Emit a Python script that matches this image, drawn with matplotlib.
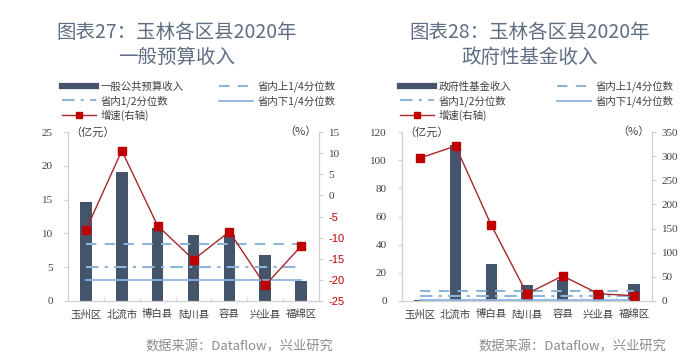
import matplotlib.pyplot as plt
from matplotlib.lines import Line2D

plt.rcParams['font.family'] = ['Noto Sans CJK SC', 'DejaVu Sans']
plt.rcParams['axes.unicode_minus'] = False

districts = ["玉州区", "北流市", "博白县", "陆川县", "容县", "兴业县", "福绵区"]

# chart 27: general budget revenue (亿元) and growth (%)
budget = [14.7, 19.1, 10.8, 9.7, 9.7, 6.8, 3.0]
budget_growth = [-8.2, 10.6, -7.2, -15.2, -8.6, -21.3, -12.0]
budget_q = [8.5, 5.1, 3.1]   # upper quartile, median, lower quartile

# chart 28: government fund revenue (亿元) and growth (%)
fund = [0.5, 111.0, 26.5, 11.5, 15.0, 6.5, 11.8]
fund_growth = [296, 321, 157, 15, 52, 15, 11]
fund_q = [7.3, 3.9, 1.0]

bar_color = "#44546a"
red = "#c00000"
line_red = "#a5282c"
qcolor = "#8fb4d8"
spine_c = "#d0d0d0"
txt_c = "#404040"

fig = plt.figure(figsize=(7, 3.63), dpi=100)


def draw(pos, bars, growth, quart, ylim, yticks, y2lim, y2ticks, bar_label,
         title, legend_xy, colspace, title_x):
    ax = fig.add_axes(pos)
    x = range(len(districts))
    ax.bar(x, bars, width=0.32, color=bar_color, zorder=2)
    l_up, = ax.plot([0, len(districts) - 1], [quart[0]] * 2, ls=(0, (5, 4)),
                    color=qcolor, lw=1.5, zorder=3)
    l_med, = ax.plot([0, len(districts) - 1], [quart[1]] * 2, ls=(0, (6, 3, 1.5, 3)),
                     color=qcolor, lw=1.5, zorder=3)
    l_low, = ax.plot([0, len(districts) - 1], [quart[2]] * 2, ls="-",
                     color="#8db3e2", lw=1.3, zorder=3)
    ax.set_xlim(-0.5, len(districts) - 0.5)
    ax.set_ylim(*ylim)
    ax.set_yticks(yticks)
    ax.set_xticks(list(x))
    ax.set_xticklabels(districts, fontsize=7.5, color=txt_c)
    ax.set_xticks([i + 0.5 for i in range(len(districts) - 1)], minor=True)
    ax.tick_params(axis="x", which="major", length=0, pad=6)
    ax.tick_params(axis="x", which="minor", direction="in", length=3, color=spine_c)
    ax.tick_params(axis="y", length=3, color=spine_c, labelsize=8,
                   labelcolor=txt_c, pad=8)
    for lab in ax.get_yticklabels():
        lab.set_family(["Liberation Serif", "DejaVu Serif"])
    ax.spines["top"].set_visible(False)
    for s in ["left", "bottom", "right"]:
        ax.spines[s].set_color(spine_c)

    ax2 = ax.twinx()
    g, = ax2.plot(list(x), growth, color=line_red, lw=1, marker="s",
                  markersize=6, markerfacecolor=red, markeredgecolor=red)
    ax2.set_ylim(*y2lim)
    ax2.set_yticks(y2ticks)
    ax2.tick_params(axis="y", length=3, color=spine_c, labelsize=8, pad=4)
    for lab, v in zip(ax2.get_yticklabels(), y2ticks):
        lab.set_family(["Liberation Serif", "DejaVu Serif"])
        lab.set_color(red if v < 0 else txt_c)
        if v < 0:
            lab.set_family(["Liberation Sans", "DejaVu Sans"])
    ax2.spines["top"].set_visible(False)
    for s in ["left", "bottom", "right"]:
        ax2.spines[s].set_color(spine_c)

    ax.text(0.01, 1.0, "（亿元）", transform=ax.transAxes, ha="left",
            va="center", fontsize=8, color=txt_c)
    ax.text(0.99, 1.0, "（%）", transform=ax.transAxes, ha="right",
            va="center", fontsize=8, color=txt_c)

    bar_proxy = Line2D([], [], color=bar_color, lw=4.5)
    handles = [bar_proxy, l_med, g, l_up, l_low]
    labels = [bar_label, "省内1/2分位数", "增速(右轴)", "省内上1/4分位数", "省内下1/4分位数"]
    fig.legend(handles, labels, loc="upper left", bbox_to_anchor=legend_xy,
               ncol=2, frameon=False, fontsize=7.5, borderpad=0,
               borderaxespad=0, handlelength=3.3, handletextpad=0.4,
               labelspacing=0.3, columnspacing=colspace, markerscale=0.8,
               labelcolor=txt_c)

    fig.text(title_x, 1 - 32 / 363, title[0], ha="center", va="center",
             fontsize=14, color="#5f6e82")
    fig.text(title_x, 1 - 57 / 363, title[1], ha="center", va="center",
             fontsize=14, color="#5f6e82")
    fig.text(pos[0] + pos[2] + 14 / 700, 1 - 347 / 363, "数据来源：Dataflow，兴业研究",
             ha="right", va="center", fontsize=9.5, color="#8c8c8c")


draw([68 / 700, 1 - 301 / 363, 251 / 700, 169 / 363], budget, budget_growth,
     budget_q, (0, 25), range(0, 26, 5), (-25, 15), list(range(-25, 16, 5)),
     "一般公共预算收入", ("图表27：玉林各区县2020年", "一般预算收入"),
     (62 / 700, 1 - 81 / 363), 3.4, 177 / 700)

draw([402 / 700, 1 - 301 / 363, 250 / 700, 169 / 363], fund, fund_growth,
     fund_q, (0, 120), range(0, 121, 20), (0, 350), list(range(0, 351, 50)),
     "政府性基金收入", ("图表28：玉林各区县2020年", "政府性基金收入"),
     (400 / 700, 1 - 81 / 363), 4.4, 530 / 700)

fig.savefig("out.png", dpi=100)
